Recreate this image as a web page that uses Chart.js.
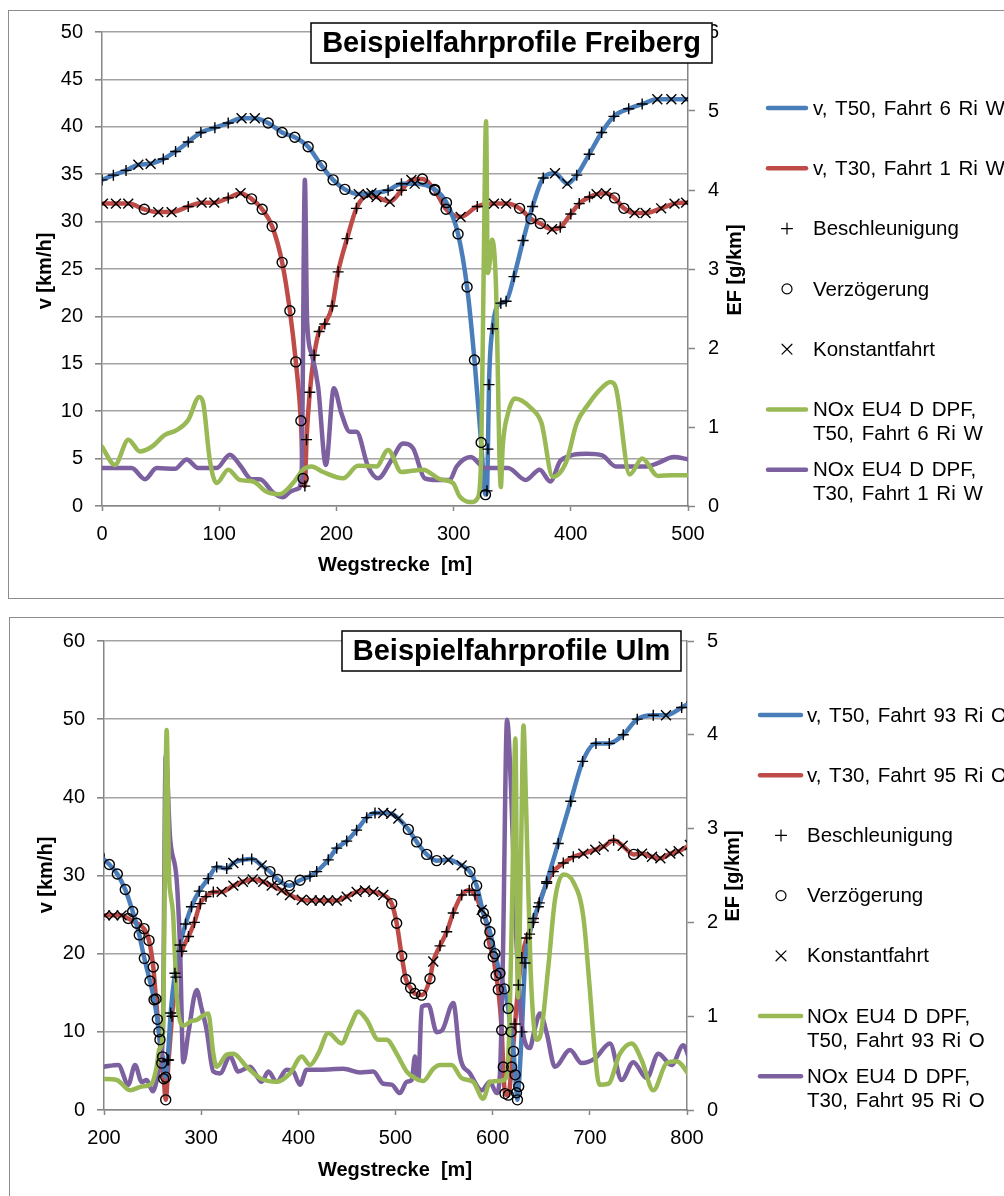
<!DOCTYPE html>
<html>
<head>
<meta charset="utf-8">
<title>Beispielfahrprofile</title>
<script src="https://cdn.jsdelivr.net/npm/chart.js@4.4.1/dist/chart.umd.min.js"></script>
<style>
  body { margin: 0; background: #fff; width: 1004px; height: 1196px; overflow: hidden; position: relative; }
  .frame { position: absolute; border: 1.5px solid #8c8c8c; box-sizing: border-box; }
  canvas { position: absolute; left: 0; }
</style>
</head>
<body>
<div class="frame" style="left:8px; top:10px; width:1010px; height:589px;"></div>
<div class="frame" style="left:9px; top:617px; width:1010px; height:600px;"></div>
<canvas id="freiberg" width="1004" height="600" style="top:0"></canvas>
<canvas id="ulm" width="1004" height="596" style="top:600px"></canvas>
<script>
const FONT = "'Liberation Sans', Arial, sans-serif";
const BLUE = '#4a7ebb', RED = '#be4b48', GREEN = '#98b954', PURPLE = '#7d60a0';

// phase codes: + Beschleunigung, o Verzögerung, x Konstantfahrt

// ---- Freiberg, v T50 Fahrt 6 Ri W
const fbT50Dist = [0, 9.7, 20.5, 31, 41.5, 52.3, 62.8, 73.6, 84.4, 96.3, 107.7, 119.1, 130.4,
  141.8, 153.7, 164.5, 175.9, 187.3, 197.2, 207.2, 219.1, 229.9, 244.1, 255.5, 266.8,
  283.9, 293.9, 303.8, 311.5, 317.8, 323.5, 327.2, 328.5, 329.3, 330.2, 333.2, 340.3, 344.8,
  351.5, 359.3, 367.4, 376.5, 386.5, 397, 405.1, 415.7, 426.3, 436.8, 449.4, 460.9, 473.8, 485.8, 498.5];
const fbT50Speed = [34.4, 34.9, 35.4, 36.0, 36.1, 36.6, 37.4, 38.4, 39.4, 39.9, 40.4, 40.9, 40.9,
  40.4, 39.4, 38.9, 37.9, 35.9, 34.4, 33.4, 32.9, 33.0, 33.3, 34.0, 34.0,
  33.4, 32.0, 28.7, 23.1, 15.4, 6.7, 1.2, 1.6, 6.0, 12.8, 18.7, 21.4, 21.6,
  24.2, 28.0, 31.6, 34.6, 35.1, 34.0, 34.9, 37.1, 39.4, 41.1, 41.9, 42.4, 42.9, 42.9, 42.9];
const fbT50Phase = '+++xx++++++xxoooooooxx++xooooooo++++++++++xx++++++xxx';

// ---- Freiberg, v T30 Fahrt 1 Ri W
const fbT30Dist = [0.8, 11.9, 22.4, 36.1, 48, 59.4, 73.6, 85, 95.8, 107.7, 118.2,
  127.6, 136.7, 145.2, 153.7, 160.3, 165.4, 169.7, 171.6,
  173.1, 174.5, 177.3, 181, 185.3, 190.1, 196.5, 201.5, 209.1, 217.1,
  227, 234.2, 245.5, 255.5, 264, 273.4, 283.9, 293.6, 306, 320.2, 334.4, 344.8,
  356.3, 366, 374, 384, 391, 400, 407.2, 416, 422, 430, 437.3, 445.3,
  454.4, 463.8, 477.1, 488.5, 498.4];
const fbT30Speed = [31.9, 31.9, 31.9, 31.3, 31.0, 31.0, 31.6, 32.0, 32.0, 32.5, 33.0,
  32.4, 31.3, 29.5, 25.7, 20.6, 15.2, 9.0, 2.9,
  2.1, 7.0, 12.0, 15.9, 18.4, 19.2, 21.1, 24.7, 28.2, 31.4,
  32.8, 32.6, 32.1, 33.3, 34.4, 34.5, 33.3, 31.3, 30.5, 31.6, 31.9, 31.9,
  31.4, 30.3, 29.8, 29.2, 29.4, 30.8, 31.9, 32.6, 32.9, 33.0, 32.5, 31.4,
  30.9, 30.9, 31.4, 31.9, 32.0];
const fbT30Phase = 'xxxoxx+xx+xoooooooo++++++++++xxx+xooox+xxooox++++xxooxxxxx';

// ---- Freiberg, NOx EF [g/km]
const fbT50NoxDist = [0, 11, 22.5, 32.4, 42.4, 53.7, 63.7, 73.6, 83, 86.4, 92, 97.8, 107.7, 117.6,
  129, 140.4, 151.7, 163, 171.6, 178.8, 188.7, 205.7, 218.5, 234.2, 244.1, 255.5, 273.9,
  288.2, 299.5, 305.2, 316.5, 320.5, 323.5, 325.5, 327.7, 329.2, 331, 332.8, 336, 340.3,
  341.9, 346.4, 352.4, 366, 375, 384.5, 396.1, 405.1, 414.6, 424.7, 433.8, 438.2,
  450.3, 460.9, 474.4, 486, 500];
const fbT50Nox = [0.75, 0.52, 0.84, 0.69, 0.75, 0.90, 0.96, 1.09, 1.38, 1.30, 0.58, 0.29, 0.46, 0.33,
  0.31, 0.18, 0.15, 0.29, 0.46, 0.50, 0.43, 0.35, 0.51, 0.50, 0.71, 0.43, 0.46,
  0.34, 0.29, 0.12, 0.05, 0.10, 0.6, 2.8, 4.87, 2.95, 3.1, 3.37, 2.86, 0.24,
  0.75, 1.17, 1.36, 1.24, 1.05, 0.37, 0.56, 1.05, 1.28, 1.47, 1.57, 1.51,
  0.40, 0.60, 0.38, 0.39, 0.39];
const fbT30NoxDist = [0, 25.3, 36.7, 46.6, 62.2, 72.2, 82.1, 97.8, 109.1, 117.6, 127.6, 134.7,
  146, 154, 161.7, 167.4, 170.3, 173.1, 175, 178.8, 184.4, 191, 197.8, 204.3, 211.4, 217.1,
  227, 235.5, 247, 256.9, 265.4, 275.4, 285.3, 296.7, 302.6, 314.7, 326.8, 346.4,
  361.5, 373.5, 382.5, 391.6, 413.5, 426.8, 438.5, 464.8, 473.6, 488, 500];
const fbT30Nox = [0.48, 0.48, 0.34, 0.48, 0.47, 0.59, 0.48, 0.48, 0.65, 0.52, 0.34, 0.34,
  0.17, 0.11, 0.19, 0.22, 0.40, 4.13, 2.35, 1.93, 1.51, 0.52, 1.49, 1.17, 0.94, 0.94,
  0.50, 0.35, 0.58, 0.79, 0.73, 0.35, 0.33, 0.33, 0.50, 0.62, 0.48, 0.48,
  0.33, 0.46, 0.31, 0.58, 0.66, 0.64, 0.50, 0.50, 0.54, 0.62, 0.59];

// ---- Ulm, v T50 Fahrt 93 Ri O
const ulT50Dist = [195, 205.5, 213.7, 221.9, 229.5, 236.3, 241.5, 247.3, 251.5, 254.9, 257.6, 260.4, 263.5,
  265.5, 268.6, 273, 278.2, 284, 290, 298, 307.3, 316, 326.3, 333.1, 342.7, 352,
  362.3, 370.8, 378.7, 390.7, 401.7, 412, 418.9, 430.8, 439.5, 449.8, 460, 470.4, 478.9, 487.4, 495.5,
  502.9, 513.2, 521.8, 532.1, 542.4, 554.3, 568.1, 576.6, 583.5, 590.4, 597.2, 602.4, 607.5,
  612, 616, 619, 621.5, 623.2, 624.5, 625.5,
  626.8, 630, 633.3, 638, 642, 647, 655.6, 667.5, 680.3, 692.6, 706.3, 720, 734.4, 748.8,
  765.3, 778.4, 794.5, 805];
const ulT50Speed = [32.6, 31.4, 30.2, 28.2, 25.4, 22.4, 19.4, 16.5, 14.1, 11.6, 9.0, 6.8, 4.2,
  6.4, 12.4, 17.5, 21.1, 23.8, 26.0, 28.0, 29.6, 31.1, 30.9, 31.6, 32.0, 32.1,
  31.3, 30.5, 29.5, 28.7, 29.4, 29.9, 30.5, 32.0, 33.5, 34.4, 35.8, 37.4, 38.0, 38.0, 37.9,
  37.3, 35.9, 34.3, 32.7, 31.9, 32.0, 31.3, 30.5, 28.7, 25.2, 22.8, 20.0, 17.5,
  15.5, 13.0, 10.0, 7.5, 4.5, 2.2, 1.3,
  3.0, 10.0, 18.8, 22.5, 24.5, 26.0, 29.2, 34.1, 39.5, 44.6, 46.9, 46.9, 48.0, 50.0,
  50.5, 50.5, 51.5, 52.2];
const ulT50Phase = 'ooooooooooooo++++++++++x++xoooo++++++++xxxooooxxoooooooooooooo++++++++++++++x+++';

// ---- Ulm, v T30 Fahrt 95 Ri O
const ulT30Dist = [195, 201, 209.6, 218.1, 225, 233.6, 241.2, 246.3, 250.7, 253.5, 256.5, 259.5, 261.5,
  263.5, 266.5, 270, 274, 280, 287, 293, 299, 305,
  312.5, 321.1, 333.1, 343, 353, 363.9, 372.6, 382.9, 391.4, 403.5, 413.8, 422, 430.8, 439.5,
  449.7, 460, 468.6, 477.2, 487.4, 496.1, 501.2, 506.4, 510.8, 515.6, 520, 526.9,
  535.5, 538.9, 545.8, 552.7, 559.4, 568.1, 575.9, 581.8, 588.7, 593, 596.5, 600.6, 603.5,
  605.8, 609.3, 610.9, 612.7, 616.1, 619.5, 623, 626.5, 630, 635, 641.8, 648, 655.6, 662.4, 672.7,
  683, 693.3, 705.6, 714.2, 724.5, 733.8, 745.1, 753.7, 764, 772.6, 782.9, 791.4, 803];
const ulT30Speed = [24.9, 24.9, 24.9, 24.9, 24.5, 23.9, 23.2, 21.7, 18.3, 14.2, 10.0, 6.0, 4.0,
  1.3, 6.4, 12.0, 17.0, 20.3, 22.2, 24.0, 26.4, 27.3,
  27.9, 27.9, 28.7, 29.2, 29.5, 29.2, 28.7, 28.1, 27.5, 26.9, 26.8, 26.8, 26.8, 26.8,
  27.3, 27.9, 28.1, 27.9, 27.5, 26.4, 23.9, 19.7, 16.7, 15.6, 14.9, 14.7,
  16.8, 19.0, 21.0, 22.8, 25.2, 27.5, 28.1, 27.5, 25.6, 24.3, 21.3, 19.6, 17.2,
  15.4, 10.2, 5.5, 2.1, 1.9, 5.5, 11.0, 16.0, 19.5, 22.0, 24.0, 26.5, 29.0, 30.5, 31.6,
  32.4, 32.8, 33.3, 33.7, 34.5, 33.8, 32.7, 32.8, 32.4, 32.2, 32.8, 33.1, 33.9];
const ulT30Phase = 'xxxxoooooooooo+++++++++xxxxxxxxxxxxxxxxxxoooooooox++++++xoooooooooo++++++++++xxx+xoxxxxxxx';

// ---- Ulm, NOx EF [g/km]
const ulT50NoxDist = [199, 213, 226.8, 238.8, 249, 254, 257, 260.5, 264.5, 267, 268.5, 271, 275, 282,
  290, 295.3, 301, 307.3, 312.5, 316, 326.3, 333.1, 346.9, 360.5, 377.7, 391.4, 403.5, 412,
  420.5, 430.8, 444.6, 453.2, 461.7, 470.4, 482.3, 490.9, 501.2, 511.5, 520, 528.6, 538.9,
  545.8, 557.8, 568.1, 580, 590.3, 597.2, 607.5, 613, 617, 620, 623.4, 626, 629, 631.7,
  634.5, 639, 645.3, 648.7, 657.3, 664.1, 672.7, 683, 693.3, 699.5, 705.3, 709.8, 719,
  731, 743.1, 753.4, 765.3, 779, 789.4, 803];
const ulT50Nox = [0.33, 0.32, 0.21, 0.25, 0.28, 0.45, 0.65, 0.80, 4.05, 2.5, 2.3, 2.1, 1.2, 0.9,
  0.95, 0.96, 1.0, 1.03, 0.60, 0.46, 0.59, 0.60, 0.46, 0.34, 0.30, 0.39, 0.57, 0.48,
  0.60, 0.82, 0.71, 0.89, 1.05, 0.96, 0.75, 0.75, 0.60, 0.41, 0.34, 0.31, 0.44,
  0.48, 0.48, 0.34, 0.30, 0.12, 0.30, 0.31, 0.33, 0.8, 2.2, 3.96, 1.2, 2.6, 4.10,
  3.2, 1.5, 0.75, 0.78, 1.53, 2.24, 2.51, 2.43, 2.06, 1.35, 0.60, 0.27, 0.28,
  0.60, 0.71, 0.53, 0.21, 0.50, 0.52, 0.36];
const ulT30NoxDist = [199, 214.7, 225, 231.9, 238.8, 243.9, 250.1, 257.6, 260.5, 263.5, 268, 274.8, 278.2,
  281.6, 286.8, 295.4, 300, 305.7, 312.5, 319.4, 329.7, 338.2, 350.2, 362.3, 369.1, 377.7, 388,
  394.8, 401.7, 408.6, 422.3, 446.3, 463.5, 477.1, 487.4, 496, 504.6, 511.5, 516.7, 520, 523.5,
  527, 533.8, 542.4, 548, 559.5, 566.4, 576.7, 588.7, 597.2, 604.1, 607.5, 610.5, 614.8, 619,
  624, 629, 634, 638.2, 643, 648.7, 655.6, 664.1, 679.6, 691.6, 705.3, 720.7, 732.8, 744.7,
  758.5, 770.5, 784.2, 796.2, 803];
const ulT30Nox = [0.46, 0.48, 0.27, 0.48, 0.30, 0.32, 0.20, 0.48, 0.80, 3.78, 2.9, 2.45, 1.74,
  0.51, 0.82, 1.28, 1.10, 0.85, 0.41, 0.39, 0.57, 0.41, 0.46, 0.30, 0.41, 0.30, 0.43,
  0.41, 0.27, 0.43, 0.43, 0.44, 0.40, 0.41, 0.28, 0.27, 0.18, 0.30, 0.32, 0.57, 0.32,
  1.10, 1.12, 0.83, 0.85, 1.14, 0.57, 0.39, 0.21, 0.30, 0.18, 0.39, 1.6, 4.16, 3.4,
  1.9, 1.0, 0.7, 0.66, 0.85, 1.03, 0.82, 0.46, 0.64, 0.50, 0.55, 0.71, 0.32, 0.51,
  0.34, 0.60, 0.48, 0.69, 0.53];

function pts(xs, ys) {
  return xs.map((x, i) => ({ x: x, y: ys[i] }));
}

// points of both speed profiles that carry the given phase code
function phasePts(code, profiles) {
  const out = [];
  profiles.forEach(p => {
    p.dist.forEach((x, i) => { if (p.phase[i] === code) out.push({ x: x, y: p.speed[i] }); });
  });
  return out;
}

function lineSet(label, data, color, axis, order) {
  return {
    label: label, data: data, yAxisID: axis, order: order,
    borderColor: color, borderWidth: 4.5, pointRadius: 0,
    cubicInterpolationMode: 'monotone', borderCapStyle: 'round', borderJoinStyle: 'round'
  };
}

function markerSet(label, data, style, radius) {
  return {
    label: label, data: data, yAxisID: 'y', order: 0, showLine: false,
    pointStyle: style, pointRadius: radius, pointBorderColor: '#000', pointBorderWidth: 1.4,
    pointBackgroundColor: 'rgba(0,0,0,0)'
  };
}

// marker sizes, shared by plot and legend
const MARK = { cross: 5.5, circle: 5, crossRot: 7 };

// title box, axis titles and legend drawn straight onto the canvas
function decorPlugin(o) {
  return {
    id: 'decor',
    afterDraw(chart) {
      const ctx = chart.ctx;
      ctx.save();
      // title box
      const b = o.titleBox;
      ctx.fillStyle = '#fff';
      ctx.fillRect(b.l, b.t, b.r - b.l, b.b - b.t);
      ctx.strokeStyle = '#000';
      ctx.lineWidth = 1.5;
      ctx.strokeRect(b.l, b.t, b.r - b.l, b.b - b.t);
      ctx.fillStyle = '#000';
      ctx.font = 'bold 29px ' + FONT;
      ctx.textAlign = 'center';
      ctx.textBaseline = 'middle';
      ctx.fillText(o.title, (b.l + b.r) / 2, (b.t + b.b) / 2 + 1);

      // axis titles
      ctx.font = 'bold 20px ' + FONT;
      ctx.fillText('Wegstrecke  [m]', o.xTitle[0], o.xTitle[1]);
      [[o.yTitle, 'v [km/h]'], [o.y2Title, 'EF [g/km]']].forEach(([p, t]) => {
        ctx.save();
        ctx.translate(p[0], p[1]);
        ctx.rotate(-Math.PI / 2);
        ctx.fillText(t, 0, 0);
        ctx.restore();
      });

      // legend
      const L = o.legend;
      ctx.font = '20.5px ' + FONT;
      ctx.textAlign = 'left';
      if ('wordSpacing' in ctx) ctx.wordSpacing = '2px';
      o.legendItems.forEach((it, i) => {
        const y = L.y0 + i * L.step;
        if (it.color) {
          ctx.strokeStyle = it.color;
          ctx.lineWidth = 4.5;
          ctx.lineCap = 'round';
          ctx.beginPath();
          ctx.moveTo(L.lineX0, y);
          ctx.lineTo(L.lineX1, y);
          ctx.stroke();
        } else {
          ctx.strokeStyle = '#000';
          ctx.fillStyle = 'rgba(0,0,0,0)';
          ctx.lineWidth = 1.2;
          Chart.helpers.drawPoint(ctx, { pointStyle: it.style, radius: MARK[it.style], borderWidth: 1.2, rotation: 0 }, L.symX, y);
        }
        ctx.fillStyle = '#000';
        it.text.forEach((t, k) => ctx.fillText(t, L.textX, y + 1 + k * 24));
      });
      ctx.restore();
    }
  };
}

function profileChart(id, o) {
  const profiles = [o.fast, o.slow];
  const tickFont = { family: FONT, size: 20 };
  const axisGray = '#868686';
  return new Chart(document.getElementById(id), {
    type: 'line',
    data: {
      datasets: [
        lineSet(o.fast.label, pts(o.fast.dist, o.fast.speed), BLUE, 'y', 2),
        lineSet(o.slow.label, pts(o.slow.dist, o.slow.speed), RED, 'y', 2),
        markerSet('Beschleunigung', phasePts('+', profiles), 'cross', MARK.cross),
        markerSet('Verzögerung', phasePts('o', profiles), 'circle', MARK.circle),
        markerSet('Konstantfahrt', phasePts('x', profiles), 'crossRot', MARK.crossRot),
        lineSet(o.fastNox.label, pts(o.fastNox.dist, o.fastNox.ef), GREEN, 'y2', 1),
        lineSet(o.slowNox.label, pts(o.slowNox.dist, o.slowNox.ef), PURPLE, 'y2', 1)
      ]
    },
    options: {
      responsive: false,
      animation: false,
      events: [],
      layout: { padding: o.padding },
      plugins: { legend: { display: false }, tooltip: { enabled: false } },
      scales: {
        x: {
          type: 'linear', min: o.xMin, max: o.xMax,
          ticks: { stepSize: 100, color: '#000', font: tickFont, padding: 11, maxRotation: 0 },
          grid: { drawOnChartArea: false, tickLength: 5, tickColor: axisGray, tickWidth: 1.5 },
          border: { color: axisGray, width: 1.5 },
          afterFit: s => { s.height = 60; }
        },
        y: {
          position: 'left', min: 0, max: o.vMax,
          ticks: { stepSize: o.vStep, color: '#000', font: tickFont, padding: 12 },
          grid: { color: '#a3a3a3', lineWidth: 1.6, tickLength: 7, tickColor: axisGray },
          border: { color: axisGray, width: 1.5 },
          afterFit: s => { s.width = o.leftWidth; }
        },
        y2: {
          position: 'right', min: 0, max: o.efMax,
          ticks: { stepSize: 1, color: '#000', font: tickFont, padding: 13 },
          grid: { drawOnChartArea: false, tickLength: 7, tickColor: axisGray, tickWidth: 1.5 },
          border: { color: axisGray, width: 1.5 },
          afterFit: s => { s.width = 60; }
        }
      }
    },
    plugins: [decorPlugin(o)]
  });
}

function legendItems(fastLabel, slowLabel, fastNoxLines, slowNoxLines) {
  return [
    { text: [fastLabel], color: BLUE },
    { text: [slowLabel], color: RED },
    { text: ['Beschleunigung'], style: 'cross' },
    { text: ['Verzögerung'], style: 'circle' },
    { text: ['Konstantfahrt'], style: 'crossRot' },
    { text: fastNoxLines, color: GREEN },
    { text: slowNoxLines, color: PURPLE }
  ];
}

profileChart('freiberg', {
  title: 'Beispielfahrprofile Freiberg',
  xMin: 0, xMax: 500, vMax: 50, vStep: 5, efMax: 6,
  leftWidth: 102,
  padding: { top: 32, left: 0, right: 256, bottom: 34 },
  fast: { label: 'v, T50, Fahrt 6 Ri W', dist: fbT50Dist, speed: fbT50Speed, phase: fbT50Phase.split('') },
  slow: { label: 'v, T30, Fahrt 1 Ri W', dist: fbT30Dist, speed: fbT30Speed, phase: fbT30Phase.split('') },
  fastNox: { label: 'NOx EU4 D DPF, T50, Fahrt 6 Ri W', dist: fbT50NoxDist, ef: fbT50Nox },
  slowNox: { label: 'NOx EU4 D DPF, T30, Fahrt 1 Ri W', dist: fbT30NoxDist, ef: fbT30Nox },
  titleBox: { l: 311, t: 23, r: 712, b: 63 },
  xTitle: [395, 565], yTitle: [45, 271], y2Title: [735, 270],
  legend: { lineX0: 768, lineX1: 806, symX: 787, textX: 813, y0: 108, step: 60.3 },
  legendItems: legendItems('v, T50, Fahrt 6 Ri W', 'v, T30, Fahrt 1 Ri W',
    ['NOx EU4 D DPF,', 'T50, Fahrt 6 Ri W'], ['NOx EU4 D DPF,', 'T30, Fahrt 1 Ri W'])
});

profileChart('ulm', {
  title: 'Beispielfahrprofile Ulm',
  xMin: 200, xMax: 800, vMax: 60, vStep: 10, efMax: 5,
  leftWidth: 104,
  padding: { top: 41, left: 0, right: 257, bottom: 26 },
  fast: { label: 'v, T50, Fahrt 93 Ri O', dist: ulT50Dist, speed: ulT50Speed, phase: ulT50Phase.split('') },
  slow: { label: 'v, T30, Fahrt 95 Ri O', dist: ulT30Dist, speed: ulT30Speed, phase: ulT30Phase.split('') },
  fastNox: { label: 'NOx EU4 D DPF, T50, Fahrt 93 Ri O', dist: ulT50NoxDist, ef: ulT50Nox },
  slowNox: { label: 'NOx EU4 D DPF, T30, Fahrt 95 Ri O', dist: ulT30NoxDist, ef: ulT30Nox },
  titleBox: { l: 342, t: 31, r: 681, b: 71 },
  xTitle: [395, 570], yTitle: [46, 275], y2Title: [733, 276],
  legend: { lineX0: 760, lineX1: 801, symX: 781, textX: 807, y0: 115, step: 60.2 },
  legendItems: legendItems('v, T50, Fahrt 93 Ri O', 'v, T30, Fahrt 95 Ri O',
    ['NOx EU4 D DPF,', 'T50, Fahrt 93 Ri O'], ['NOx EU4 D DPF,', 'T30, Fahrt 95 Ri O'])
});
</script>
</body>
</html>
